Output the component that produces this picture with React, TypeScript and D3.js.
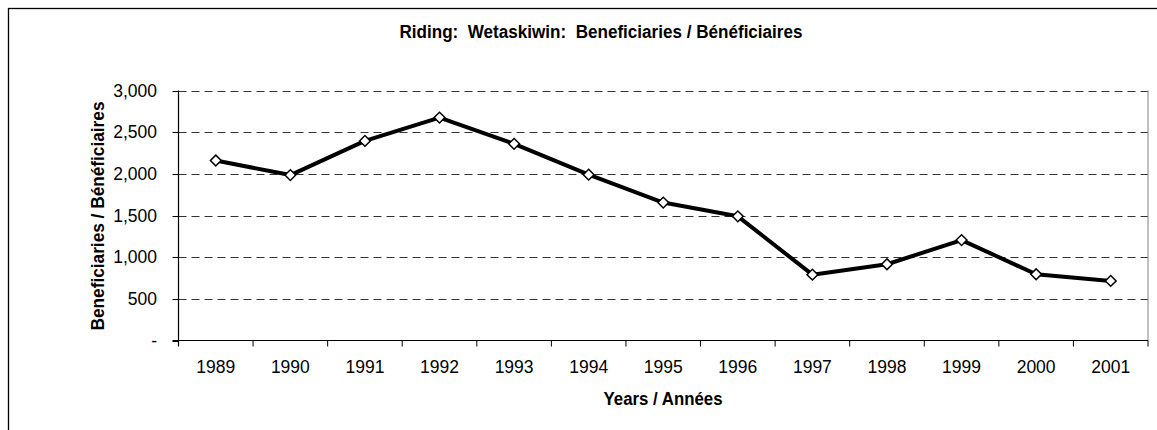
import React from 'react';
import * as d3 from 'd3';

// values
const years = ['1989', '1990', '1991', '1992', '1993', '1994', '1995', '1996', '1997', '1998', '1999', '2000', '2001'];
const beneficiaries = [2160, 1985, 2395, 2675, 2360, 1990, 1655, 1490, 790, 915, 1205, 795, 715];
const yTicks = [0, 500, 1000, 1500, 2000, 2500, 3000];

const title = 'Riding:  Wetaskiwin:  Beneficiaries / Bénéficiaires';
const xTitle = 'Years / Années';
const yTitle = 'Beneficiaries / Bénéficiaires';

const W = 1157;
const H = 430;
const plot = { left: 178.5, right: 1148, top: 90.5, bottom: 340.5 };

const labelFont = '"Liberation Sans", Arial, sans-serif';
const boldFont = '"Liberation Sans Narrow", "Arial Narrow", "Liberation Sans", Arial, sans-serif';

export default function App() {
  const x = d3.scaleBand().domain(years).range([plot.left, plot.right]);
  const y = d3.scaleLinear().domain([0, 3000]).range([plot.bottom, plot.top]);

  const line = d3.line<number>()
    .x((d, i) => x(years[i])! + x.bandwidth() / 2)
    .y(d => y(d));

  const diamond = d3.symbol().type(d3.symbolSquare).size(58)();
  const fmt = d3.format(',');

  return (
    <svg
      width={W}
      height={H}
      style={{ position: 'absolute', left: 0, top: 0, background: '#fff' }}
    >
      {/* outer chart frame, runs off the right and bottom edge */}
      <rect x={8.5} y={8.5} width={1186} height={500} fill="#fff" stroke="#000" strokeWidth={1.3} />

      <text x={601} y={38} textAnchor="middle" fontFamily={boldFont} fontWeight="bold" fontSize={18}
        textLength={403} lengthAdjust="spacingAndGlyphs" style={{ whiteSpace: 'pre' }}>
        {title}
      </text>

      {/* gridlines */}
      {yTicks.filter(t => t > 0).map(t => (
        <line key={t} x1={plot.left} x2={plot.right} y1={Math.round(y(t)) + 0.5} y2={Math.round(y(t)) + 0.5}
          stroke="#333" strokeWidth={1} strokeDasharray="8,5" />
      ))}
      <line x1={plot.right} x2={plot.right} y1={plot.top} y2={plot.bottom} stroke="#808080" strokeWidth={1} />

      {/* y axis */}
      <line x1={plot.left} x2={plot.left} y1={plot.top} y2={plot.bottom + 6} stroke="#000" strokeWidth={1.2} />
      {yTicks.map(t => (
        <g key={t}>
          <line x1={plot.left - 6} x2={plot.left} y1={Math.round(y(t)) + 0.5} y2={Math.round(y(t)) + 0.5} stroke="#000" />
          <text x={157} y={y(t)} dy="0.36em" textAnchor="end" fontFamily={labelFont} fontSize={17.5}>
            {t === 0 ? '-' : fmt(t)}
          </text>
        </g>
      ))}

      {/* x axis */}
      <line x1={plot.left - 6} x2={plot.right} y1={plot.bottom} y2={plot.bottom} stroke="#000" strokeWidth={1.2} />
      {years.map(yr => (
        <g key={yr}>
          <line x1={x(yr)! + x.bandwidth()} x2={x(yr)! + x.bandwidth()} y1={plot.bottom} y2={plot.bottom + 6} stroke="#000" />
          <text x={x(yr)! + x.bandwidth() / 2} y={373} textAnchor="middle" fontFamily={labelFont} fontSize={17.5}>
            {yr}
          </text>
        </g>
      ))}

      <text x={663} y={405} textAnchor="middle" fontFamily={boldFont} fontWeight="bold" fontSize={18}
        textLength={119} lengthAdjust="spacingAndGlyphs">
        {xTitle}
      </text>
      <text transform="translate(104,216) rotate(-90)" textAnchor="middle" fontFamily={boldFont} fontWeight="bold"
        fontSize={18} textLength={229} lengthAdjust="spacingAndGlyphs">
        {yTitle}
      </text>

      {/* series */}
      <path d={line(beneficiaries) || ''} fill="none" stroke="#000" strokeWidth={4} strokeLinejoin="round" />
      {beneficiaries.map((v, i) => (
        <path key={years[i]} d={diamond}
          transform={`translate(${x(years[i])! + x.bandwidth() / 2},${y(v)}) rotate(45)`}
          fill="#fff" stroke="#000" strokeWidth={1.5} />
      ))}
    </svg>
  );
}
